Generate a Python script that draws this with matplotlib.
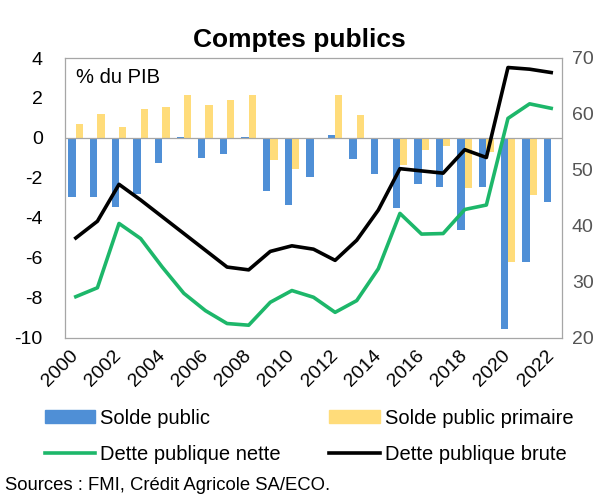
import matplotlib
matplotlib.use("Agg")
import matplotlib.pyplot as plt
import numpy as np
from matplotlib.patches import Patch
from matplotlib.lines import Line2D

plt.rcParams['font.family'] = ['Liberation Sans', 'DejaVu Sans']
plt.rcParams['axes.unicode_minus'] = False

years = list(range(2000, 2023))
solde_public = [-2.97, -2.97, -3.47, -2.8, -1.26, 0.03, -1.0, -0.8, 0.05, -2.67,
                -3.34, -1.97, 0.12, -1.05, -1.8, -3.5, -2.3, -2.45, -4.64, -2.45,
                -9.57, -6.2, -3.2]
solde_primaire = [0.71, 1.21, 0.54, 1.46, 1.54, 2.13, 1.63, 1.88, 2.13, -1.13,
                  -1.55, 0.0, 2.13, 1.13, 0.0, -1.38, -0.6, -0.4, -2.5, -0.7,
                  -6.2, -2.88, 0.0]
dette_nette = [27.3, 28.9, 40.4, 37.7, 32.6, 27.9, 24.8, 22.5, 22.2, 26.3,
               28.4, 27.2, 24.5, 26.6, 32.3, 42.2, 38.5, 38.6, 42.9, 43.7,
               59.2, 61.8, 61.0]
dette_brute = [37.8, 40.8, 47.4, 44.6, 41.6, 38.6, 35.6, 32.6, 32.1, 35.4,
               36.4, 35.8, 33.8, 37.4, 42.8, 50.2, 49.8, 49.4, 53.6, 52.2,
               68.3, 68.0, 67.4]
tick_years = [str(y) for y in range(2000, 2023, 2)]

blue = '#4f8fd6'
yellow = '#ffdc7a'
green = '#1db76a'
grey = '#a6a6a6'
fs = 14

fig = plt.figure(figsize=(6.06, 4.95), dpi=100)
ax = fig.add_axes([65 / 606, 1 - 337.5 / 495, 497 / 606, 279.5 / 495])
x = np.arange(len(years))
w = 0.34
ax.bar(x - w / 2, solde_public, width=w, color=blue, zorder=2)
ax.bar(x + w / 2, solde_primaire, width=w, color=yellow, zorder=2)
ax.axhline(0, color=grey, lw=0.9, zorder=3)
ax.set_xlim(-0.5, len(years) - 0.5)
ax.set_ylim(-10, 4)
ax.set_yticks(range(-10, 5, 2))
ax.tick_params(axis='y', length=0, labelsize=fs, pad=16, colors='black')
ax.set_xticks(x[::2])
ax.set_xticklabels(tick_years, rotation=45, ha='right', va='center',
                   rotation_mode='anchor')
ax.tick_params(axis='x', length=0, labelsize=fs, pad=11)
for s in ax.spines.values():
    s.set_color(grey)
    s.set_linewidth(0.9)

ax2 = ax.twinx()
ax2.plot(x, dette_nette, color=green, lw=2.6, zorder=4)
ax2.plot(x, dette_brute, color='black', lw=2.6, zorder=4)
ax2.set_ylim(20, 70)
ax2.set_yticks(range(20, 71, 10))
ax2.tick_params(axis='y', length=0, labelsize=fs, pad=7, colors='#555555')
for s in ax2.spines.values():
    s.set_visible(False)

ax.text(0.022, 0.93, '% du PIB', transform=ax.transAxes, fontsize=14.5,
        va='center', ha='left')
fig.text(299 / 606, 1 - 40 / 495, 'Comptes publics', fontsize=19,
         fontweight='bold', ha='center', va='center')

# column-major order so rows read: soldes on top, dettes below
handles = [Patch(color=blue), Line2D([], [], color=green, lw=2.6),
           Patch(color=yellow), Line2D([], [], color='black', lw=2.6)]
labels = ['Solde public', 'Dette publique nette',
          'Solde public primaire', 'Dette publique brute']
fig.legend(handles, labels, ncol=2, loc='center left',
           bbox_to_anchor=(37 / 606, 1 - 436.5 / 495), frameon=False,
           fontsize=14.5, handlelength=2.5, handleheight=0.6,
           handletextpad=0.25, columnspacing=2.4, labelspacing=0.85,
           borderaxespad=0, borderpad=0.4)

fig.text(5 / 606, 1 - 485 / 495, 'Sources : FMI, Crédit Agricole SA/ECO.',
         fontsize=13.3, ha='left', va='center')

fig.savefig('out.png', dpi=100)
